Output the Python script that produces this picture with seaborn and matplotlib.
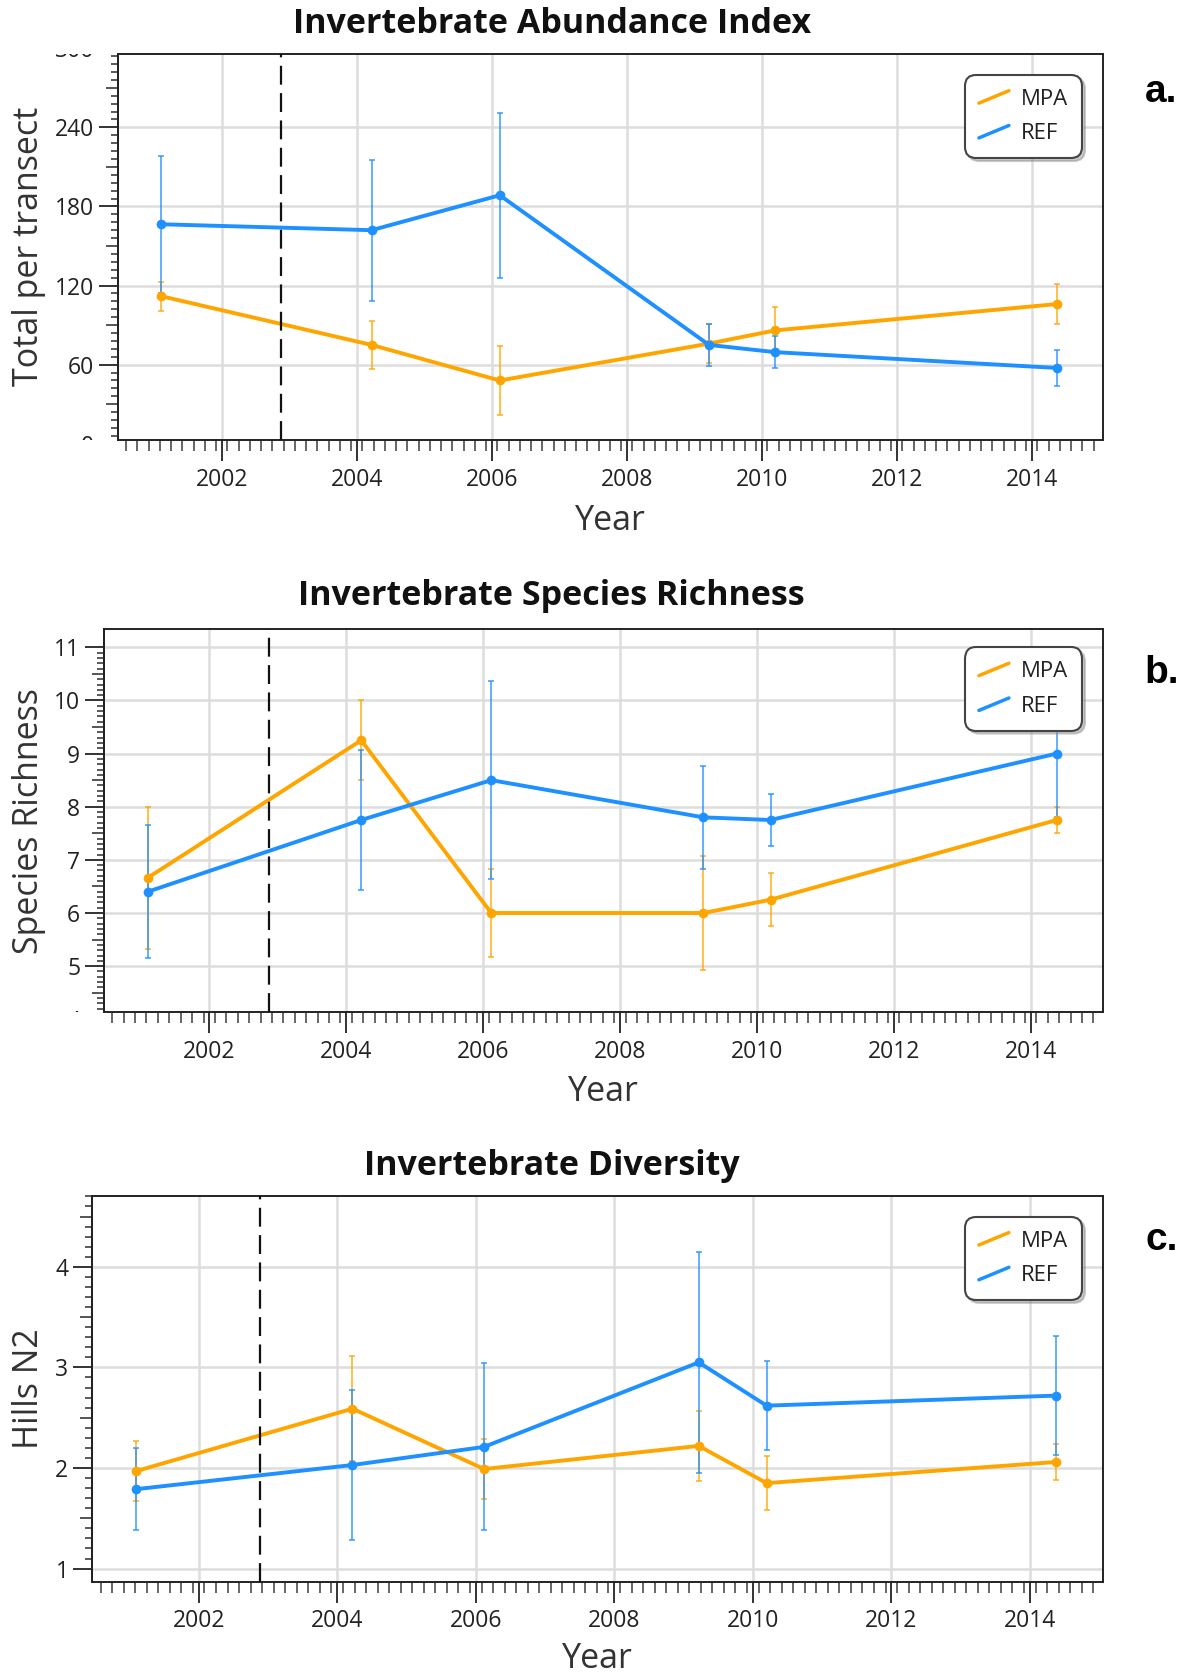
import numpy as np
import pandas as pd
import matplotlib
matplotlib.use("Agg")
import matplotlib.pyplot as plt
import seaborn as sns
from matplotlib.lines import Line2D
from matplotlib.legend_handler import HandlerBase
from matplotlib.transforms import Bbox, TransformedBbox, offset_copy
from matplotlib.ticker import FixedLocator

# ---------------- data ----------------
years = [2001.1, 2004.22, 2006.12, 2009.22, 2010.2, 2014.38]
sites = ["MPA", "REF"]

abund_mpa = [112, 75, 48, 76, 86, 106]
abund_mpa_err = [11, 18.5, 26, 15, 18, 15.5]
abund_ref = [166.5, 162, 188.5, 75, 69.5, 57.5]
abund_ref_err = [52, 53.5, 62.5, 16, 12, 13.5]

rich_mpa = [6.66, 9.25, 6.0, 6.0, 6.25, 7.75]
rich_mpa_err = [1.33, 0.75, 0.82, 1.07, 0.5, 0.25]
rich_ref = [6.4, 7.75, 8.5, 7.8, 7.75, 9.0]
rich_ref_err = [1.25, 1.31, 1.86, 0.97, 0.49, 1.2]

div_mpa = [1.97, 2.59, 1.99, 2.22, 1.85, 2.06]
div_mpa_err = [0.3, 0.52, 0.3, 0.35, 0.27, 0.18]
div_ref = [1.79, 2.03, 2.21, 3.05, 2.62, 2.72]
div_ref_err = [0.41, 0.75, 0.83, 1.1, 0.44, 0.59]

titles = ["Invertebrate Abundance Index", "Invertebrate Species Richness",
          "Invertebrate Diversity"]
ylabels = ["Total per transect", "Species Richness", "Hills N2"]
xlabel = "Year"
panel_tags = ["a.", "b.", "c."]
xtick_years = [2002, 2004, 2006, 2008, 2010, 2012, 2014]
closure_year = 2002.88

y_major = [list(range(0, 301, 60)), list(range(4, 12)), list(range(1, 6))]
y_lims = [(3, 296), (4.13, 11.34), (0.87, 4.70)]
y_mid_step = [30, 0.5, 0.5]
y_minor_step = [6, 0.1, 0.1]
x_lim = (2000.46, 2015.05)

colors = {"MPA": "#FFA500", "REF": "#1E90FF"}

# ---------------- style ----------------
sns.set_theme(style="white")
plt.rcParams['font.family'] = ['Open Sans', 'DejaVu Sans']

W, H = 1186, 1678
fig = plt.figure(figsize=(W / 100, H / 100), dpi=100)
SW, SH = 1108, 1568  # layout reference grid


def fx(px):
    return px / SW


def fy(py):
    return 1 - py / SH


# left, top, right, bottom (layout grid px)
boxes = [(110, 50, 1030, 411), (97, 588, 1030, 946), (86, 1118, 1030, 1478)]
title_y = [22, 557, 1090]
tag_base = [95, 638, 1168]
year_y = [487, 1020, 1550]
legend_gap = [(19, 20), (19, 17), (19, 19)]


class SlantHandler(HandlerBase):
    def create_artists(self, legend, orig_handle, xdescent, ydescent,
                       width, height, fontsize, trans):
        ln = Line2D([-xdescent, -xdescent + width],
                    [-ydescent + 0.1 * height, -ydescent + 0.9 * height],
                    color=orig_handle.get_color(), lw=2.5,
                    solid_capstyle='round', transform=trans)
        return [ln]


series = [
    (abund_mpa, abund_mpa_err, abund_ref, abund_ref_err),
    (rich_mpa, rich_mpa_err, rich_ref, rich_ref_err),
    (div_mpa, div_mpa_err, div_ref, div_ref_err),
]

TICK_FS = 16.5

for i, (l, t, r, b) in enumerate(boxes):
    ax = fig.add_axes([fx(l), fy(b), fx(r) - fx(l), fy(t) - fy(b)])
    mpa, mpa_e, ref, ref_e = series[i]
    df = pd.DataFrame({
        "Year": years * 2,
        "value": mpa + ref,
        "Site": ["MPA"] * len(years) + ["REF"] * len(years),
    })

    # error bars
    for s, v, e in (("MPA", mpa, mpa_e), ("REF", ref, ref_e)):
        ax.errorbar(years, v, yerr=e, fmt='none', ecolor=colors[s],
                    elinewidth=1.4, capsize=2.5, capthick=1.4, alpha=0.7,
                    zorder=2)

    sns.lineplot(data=df, x="Year", y="value", hue="Site", hue_order=sites,
                 palette=colors, marker='o', markersize=7,
                 markeredgewidth=0, linewidth=2.8, legend=False, ax=ax,
                 zorder=3)

    ax.axvline(closure_year, color='#111111', lw=1.6, ls=(0, (8.5, 3.8)),
               zorder=4)

    ax.set_xticks(xtick_years)
    ax.set_xticklabels([str(y) for y in xtick_years])
    ax.xaxis.set_minor_locator(FixedLocator(
        np.arange(2000.5 + 1 / 12, 2015.1, 1 / 6)))
    ax.set_yticks(y_major[i])
    ax.set_yticklabels([str(v) for v in y_major[i]])
    lo, hi = y_major[i][0], y_major[i][-1]
    ax.yaxis.set_minor_locator(FixedLocator(
        np.arange(lo, hi + 1e-9, y_minor_step[i])))
    ax.set_xlim(*x_lim)
    ax.set_ylim(*y_lims[i])

    ax.grid(True, which='major', color='#dddddd', linewidth=1.8, zorder=0)
    ax.set_axisbelow(True)
    ax.set_xlabel("")
    ax.set_ylabel("")

    for sp in ax.spines.values():
        sp.set_color('#222222')
        sp.set_linewidth(1.4)

    ax.tick_params(axis='x', which='major', direction='out', length=15,
                   width=1.4, color='#333333', pad=5, labelsize=TICK_FS,
                   labelcolor='#222222', bottom=True)
    ax.tick_params(axis='x', which='minor', direction='out', length=8,
                   width=1.4, color='#666666', bottom=True)
    ax.tick_params(axis='y', which='major', direction='out', length=14,
                   width=1.4, color='#333333', pad=3, labelsize=TICK_FS,
                   labelcolor='#222222', left=True)
    ax.tick_params(axis='y', which='minor', direction='out', length=5,
                   width=1.4, color='#5a5a5a', left=True)

    # medium ticks at half steps
    sec = ax.secondary_yaxis('left')
    mids = np.arange(lo + y_mid_step[i], hi, 2 * y_mid_step[i])
    sec.set_yticks(mids)
    sec.tick_params(axis='y', which='major', length=9, width=1.4,
                    color='#555555', labelleft=False)
    sec.spines['left'].set_color('#222222')
    sec.spines['left'].set_linewidth(1.4)
    ax.set_ylim(*y_lims[i])

    # tick labels that sit half outside the plotting range (clipped)
    clipbox = TransformedBbox(Bbox([[-0.5, 0], [0, 1]]), ax.transAxes)
    tr = offset_copy(ax.get_yaxis_transform(), fig=fig, x=-17, y=0,
                     units='points')
    ymin, ymax = y_lims[i]
    for v in y_major[i]:
        if v < ymin or v > ymax:
            txt = ax.text(0, v, str(v), transform=tr, ha='right',
                          va='center_baseline', fontsize=TICK_FS,
                          color='#222222')
            txt.set_clip_box(clipbox)
            txt.set_clip_on(True)

    # legend
    handles = [Line2D([], [], color=colors[s]) for s in sites]
    gx, gy = legend_gap[i]
    leg = ax.legend(handles, sites, loc='upper right',
                    bbox_to_anchor=(1 - gx / (r - l), 1 - gy / (b - t)),
                    borderaxespad=0, handler_map={Line2D: SlantHandler()},
                    fontsize=16, handlelength=1.35, handleheight=0.7,
                    handletextpad=0.55, labelspacing=0.62, borderpad=0.62,
                    frameon=True, fancybox=True,
                    shadow={'color': '0.55', 'alpha': 0.45})
    frame = leg.get_frame()
    frame.set_edgecolor('#444444')
    frame.set_linewidth(1.5)
    frame.set_facecolor('white')
    frame.set_alpha(1)
    frame.set_boxstyle('round,pad=0,rounding_size=0.5')
    for tx in leg.get_texts():
        tx.set_color('#222222')

    # texts
    fig.text(fx(515.5), fy(title_y[i]), titles[i], ha='center', va='center',
             fontsize=24.5, fontweight='bold', color='#111111')
    fig.text(fx(27), fy((t + b) / 2), ylabels[i], rotation=90, ha='center',
             va='center', fontsize=24.5, color='#333333')
    fig.text(fx((l + r) / 2), fy(year_y[i]), xlabel, ha='center',
             va='center', fontsize=24.5, color='#333333')
    fig.text(fx(1085), fy(tag_base[i]), panel_tags[i], ha='center',
             va='baseline', fontsize=28, fontweight='bold',
             family=['Liberation Sans', 'DejaVu Sans'], color='black')

fig.savefig("out.png", dpi=100, facecolor='white')
